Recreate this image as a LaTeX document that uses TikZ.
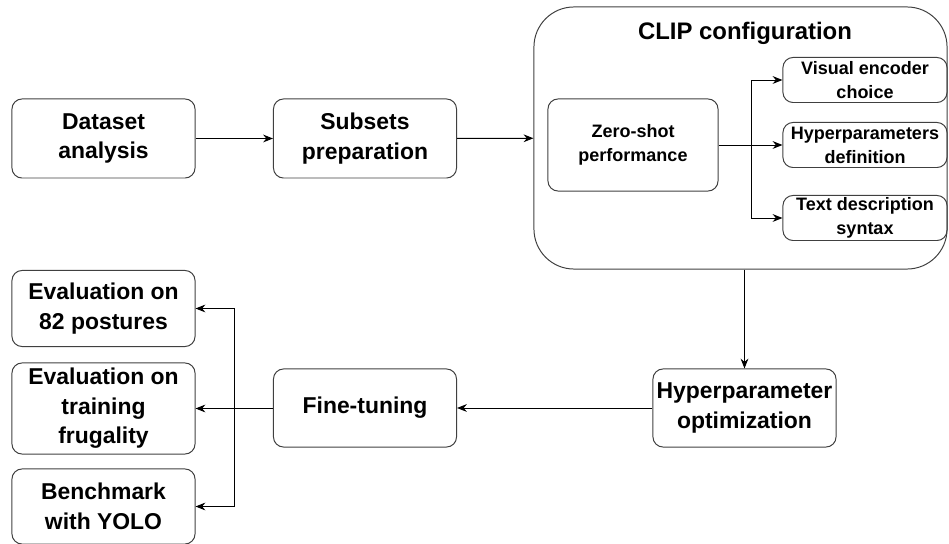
\documentclass[tikz,border=0pt]{standalone}
\usepackage{fontspec}
\setmainfont{Liberation Sans}
\usetikzlibrary{arrows.meta}
\tikzset{box/.style = {draw = black!75, line width = 0.7pt, rounded corners = 0.25cm, align = center, inner sep = 0pt, font = \fontsize{16.3}{21}\selectfont\bfseries, minimum width = 4.575cm, minimum height = 1.975cm}}
\tikzset{smallbox/.style = {box, font = \fontsize{12.8}{17}\selectfont\bfseries, minimum width = 4.1cm, minimum height = 1.125cm}}
\tikzset{link/.style = {-{Stealth[length = 7pt, width = 5.5pt]}, line width = 0.7pt}}

\begin{document}
\begin{tikzpicture}[x = 0.025cm, y = -0.025cm]
\useasboundingbox (0,0) rectangle (949,544);
% top row
\node (dataset) at (103.5,138.5) [box] {Dataset\\analysis};
\node (subsets) at (365,138.5) [box] {Subsets\\preparation};
\node (clip) at (740.5,138) [box, rounded corners = 1cm, minimum width = 10.325cm, minimum height = 6.55cm] {};
\node (cliptitle) at (745,33) [font = \fontsize{17}{21}\selectfont\bfseries] {CLIP configuration};
\node (zeroshot) at (633,145) [smallbox, minimum width = 4.25cm, minimum height = 2.3cm] {Zero-shot\\performance};
\node (visual) at (865,80) [smallbox] {Visual encoder\\choice};
\node (hyperdef) at (865,145) [smallbox] {Hyperparameters\\definition};
\node (syntax) at (865,218) [smallbox] {Text description\\syntax};
% bottom row
\node (hyperopt) at (744.5,408) [box, minimum height = 1.95cm] {Hyperparameter\\optimization};
\node (finetune) at (365,408) [box, minimum height = 1.95cm] {Fine-tuning};
\node (evalpost) at (103.5,308.5) [box, minimum height = 1.9cm] {Evaluation on\\82 postures};
\node (evaltrain) at (103.5,408.5) [box, minimum height = 2.275cm] {Evaluation on\\training\\frugality};
\node (bench) at (103.5,506.5) [box, minimum height = 1.875cm] {Benchmark\\with YOLO};
% connectors
\draw [link] (dataset) -- (subsets);
\draw [link] (subsets) -- (clip);
\coordinate (fork) at (751,145);
\draw [line width = 0.7pt] (zeroshot) -- (fork);
\foreach \n in {visual, hyperdef, syntax}
\draw [link] (fork) |- (\n);
\draw [link] (hyperopt |- clip.south) -- (hyperopt);
\draw [link] (hyperopt) -- (finetune);
\coordinate (split) at (234,408);
\draw [line width = 0.7pt] (finetune) -- (split);
\foreach \n in {evalpost, evaltrain, bench}
\draw [link] (split) |- (\n);
\end{tikzpicture}
\end{document}
